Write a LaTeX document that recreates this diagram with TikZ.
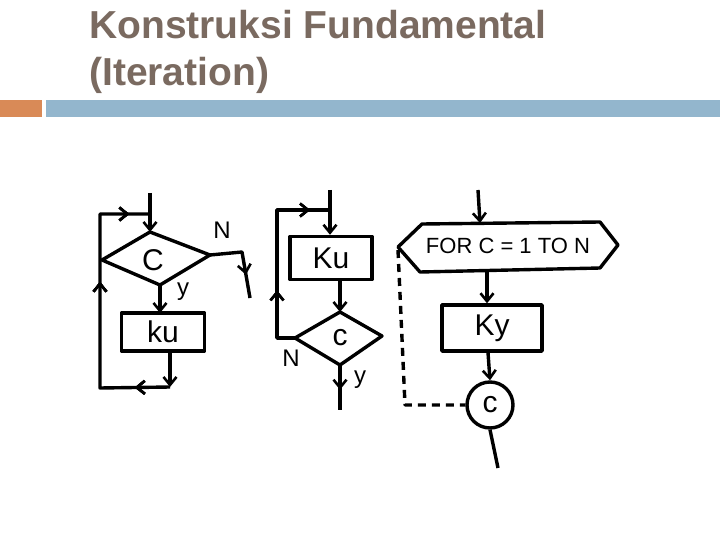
\documentclass[tikz,border=0pt]{standalone}
\usepackage{fontspec}
\setmainfont{Liberation Sans}
\usetikzlibrary{arrows.meta,decorations.markings}
\definecolor{titlec}{HTML}{7A6A60}
\definecolor{orangec}{HTML}{D98A57}
\definecolor{bluec}{HTML}{93B6CD}
\tikzset{
 ln/.style={line width=3.4pt,line join=round},
 mid/.style={postaction={decorate},decoration={markings,mark=at position #1 with {\arrow{Straight Barb[length=8pt,width=13pt,line width=2.6pt]}}}},
 tip/.style={-{Straight Barb[length=8pt,width=13pt,line width=2.6pt]}},
 hand/.style={font=\fontsize{30}{32}\selectfont},
 lbl/.style={font=\fontsize{24}{26}\selectfont}
}
\begin{document}
\begin{tikzpicture}[x=1pt,y=-1pt]
\useasboundingbox (0,0) rectangle (720,540);
\fill[white] (0,0) rectangle (720,540);
\node[anchor=north west,align=left,text=titlec,inner sep=0pt,font=\bfseries\fontsize{39}{47}\selectfont] (title) at (89,10) {Konstruksi Fundamental\\(Iteration)};
\fill[orangec] (0,100) rectangle (42,117);
\fill[bluec] (46,100) rectangle (720,117);
% diagram 1
\coordinate (d1in) at (150,193); \coordinate (d1t) at (150,232); \coordinate (d1l) at (102,260);
\coordinate (d1r) at (210,255); \coordinate (d1b) at (160,285);
\draw[ln] (d1t)--(d1r)--(d1b)--(d1l)--cycle;
\node[hand] (c1) at (153,260) {C};
\draw[ln,tip] (d1in)--(d1t);
\node[draw,ln,minimum width=83pt,minimum height=38pt,hand] (ku1) at (163,332) {ku};
\draw[ln,tip] (d1b)--(160,313);
\node[lbl] (y1) at (183,292) {y};
\coordinate (o1) at (250,298);
\draw[ln,mid=0.7] (d1r)--(242,252)--(o1);
\node[lbl] (n1) at (222,230) {N};
\coordinate (b1) at (170,387);
\draw[ln,tip] (170,351)--(b1);
\draw[ln,mid=0.12,mid=0.6,mid=0.93] (b1)--(100,388)--(100,214)--(d1in|-0,214);
% diagram 2
\node[draw,ln,minimum width=82pt,minimum height=43pt,hand] (ku2) at (331,258) {Ku};
\coordinate (d2in) at (330,190);
\draw[ln,tip] (d2in)--(ku2.north-|d2in);
\coordinate (d2t) at (340,312); \coordinate (d2l) at (295,338);
\coordinate (d2r) at (382,336); \coordinate (d2b) at (340,365);
\draw[ln] (d2t)--(d2r)--(d2b)--(d2l)--cycle;
\node[hand] (c2) at (340,338) {c};
\draw[ln,tip] (ku2.south-|d2t)--(d2t);
\draw[ln,mid=0.33,mid=0.9] (d2l)--(277,338)--(277,210)--(d2in|-0,210);
\node[lbl] (n2) at (291,358) {N};
\coordinate (o2) at (340,410);
\draw[ln,mid=0.55] (d2b)--(o2);
\node[lbl] (y2) at (360,380) {y};
% diagram 3
\node[font=\fontsize{22}{24}\selectfont] (for) at (508,246) {FOR C = 1 TO N};
\draw[ln] (398,247)--(422,224)--(600,222)--(618,245)--(600,268)--(420,272)--cycle;
\coordinate (d3in) at (478,190);
\draw[ln,tip] (d3in)--(480,223);
\node[draw,ln,minimum width=100pt,minimum height=46pt,hand] (ky) at (492,328) {Ky};
\draw[ln,tip] (487,271)--(ky.north-|487,0);
\node[draw,ln,circle,minimum size=46pt,inner sep=0pt,hand] (cc) at (490,405) {c};
\draw[ln,tip] (ky.south-|488,0)--(cc.north);
\coordinate (o3) at (498,468);
\draw[ln] (cc.south)--(o3);
\draw[ln,dashed,dash pattern=on 8pt off 6pt] (398,250)--(405,405)--(cc.west);
\end{tikzpicture}
\end{document}
